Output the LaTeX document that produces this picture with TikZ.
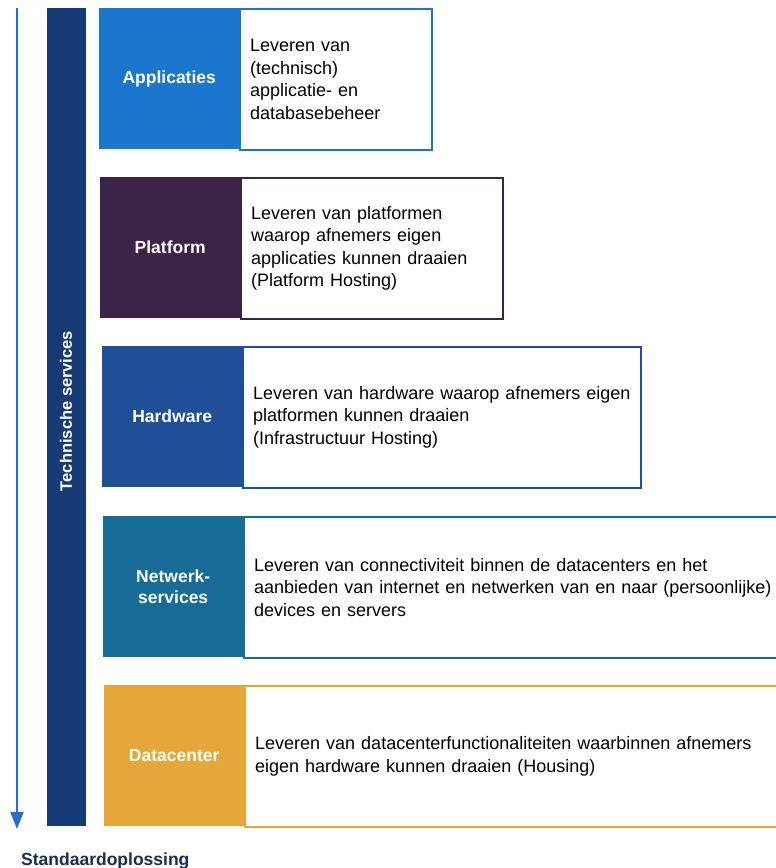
\documentclass[tikz,border=0pt]{standalone}
\usepackage{fontspec}
\setmainfont{Liberation Sans}
\usetikzlibrary{arrows.meta}
\definecolor{cApp}{RGB}{27,118,206}
\definecolor{cPlat}{RGB}{60,35,72}
\definecolor{cHard}{RGB}{31,79,150}
\definecolor{cNet}{RGB}{22,108,151}
\definecolor{cData}{RGB}{229,166,58}
\definecolor{cBar}{RGB}{22,58,118}
\definecolor{cArrow}{RGB}{40,110,210}
\definecolor{cTxt}{RGB}{25,45,85}
\tikzset{
  layerbox/.style={anchor=north west, minimum width=140pt, minimum height=141pt,
    inner sep=2pt, text=white, font=\bfseries\fontsize{17.5}{21}\selectfont, align=center},
  descbox/.style={anchor=north west, minimum height=141pt, line width=1.6pt,
    fill=white, inner xsep=10pt, inner ysep=2pt, align=left,
    font=\fontsize{18}{22.5}\selectfont, text=black},
}
\begin{document}
\begin{tikzpicture}[x=1pt,y=-1pt]
\useasboundingbox (0,0) rectangle (776,868);
\fill[white] (0,0) rectangle (776,868);
% arrow
\coordinate (atop) at (17,8);
\coordinate (abot) at (17,829);
\draw[cArrow, line width=2pt, -{Triangle[width=13pt,length=17pt]}] (atop) -- (abot);
% bar
\node[fill=cBar, anchor=north west, minimum width=39pt, minimum height=818pt, inner sep=0pt] (bar) at (47,8) {};
\node[rotate=90, text=white, font=\bfseries\fontsize{16.5}{20}\selectfont] (barlabel) at (66,411) {Technische services};
% layer 1
\node[layerbox, fill=cApp] (app) at (99,8) {Applicaties};
\node[descbox, draw=cApp, text width=172pt, minimum width=192pt] (appt) at (app.north east)
  {Leveren van\\(technisch)\\applicatie- en\\databasebeheer};
% layer 2
\node[layerbox, fill=cPlat] (plat) at (100,177) {Platform};
\node[descbox, draw=cPlat, text width=242pt, minimum width=262pt] (platt) at (plat.north east)
  {Leveren van platformen\\waarop afnemers eigen\\applicaties kunnen draaien\\(Platform Hosting)};
% layer 3
\node[layerbox, fill=cHard] (hard) at (102,346) {Hardware};
\node[descbox, draw=cHard, text width=378pt, minimum width=398pt] (hardt) at (hard.north east)
  {Leveren van hardware waarop afnemers eigen\\platformen kunnen draaien\\(Infrastructuur Hosting)};
% layer 4
\node[layerbox, fill=cNet] (net) at (103,516) {Netwerk-\\services};
\node[descbox, draw=cNet, text width=530pt, minimum width=550pt] (nett) at (net.north east)
  {Leveren van connectiviteit binnen de datacenters en het\\aanbieden van internet en netwerken van en naar (persoonlijke)\\devices en servers};
% layer 5
\node[layerbox, fill=cData] (data) at (104,685) {Datacenter};
\node[descbox, draw=cData, text width=530pt, minimum width=550pt] (datat) at (data.north east)
  {Leveren van datacenterfunctionaliteiten waarbinnen afnemers\\eigen hardware kunnen draaien (Housing)};
% bottom label
\node[anchor=base west, inner sep=0pt, text=cTxt, font=\bfseries\fontsize{17.5}{21}\selectfont] (std) at (21,865) {Standaardoplossing};
\end{tikzpicture}
\end{document}
